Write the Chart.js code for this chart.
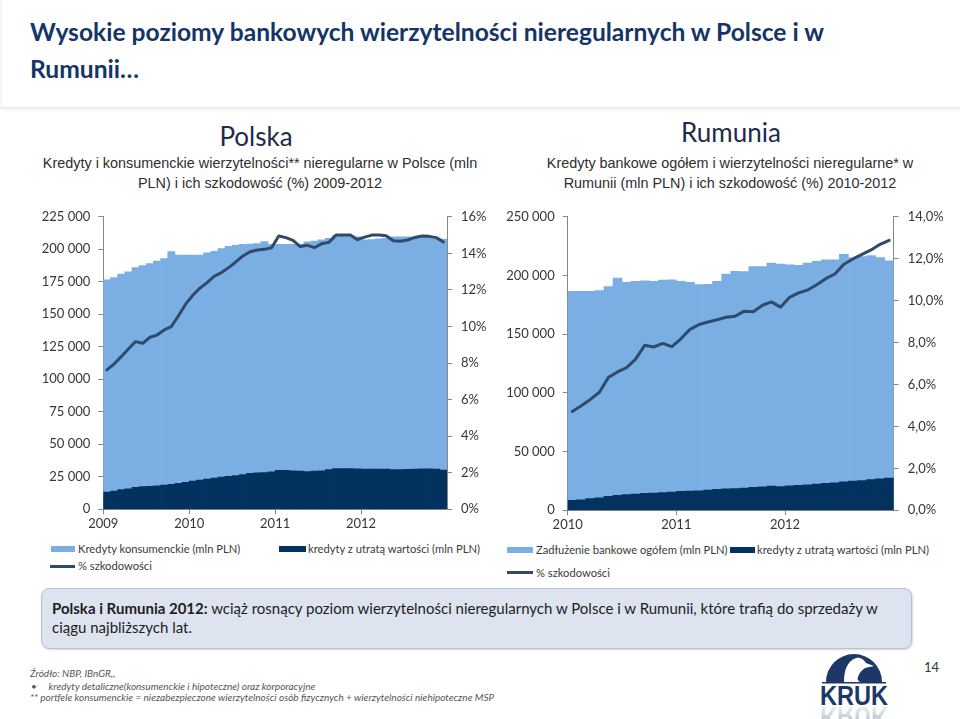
<!DOCTYPE html>
<html lang="pl">
<head>
<meta charset="utf-8">
<script src="https://cdn.jsdelivr.net/npm/chart.js@4.4.1/dist/chart.umd.min.js"></script>
<style>
  html,body{margin:0;padding:0;background:#fff;}
  body{width:960px;height:719px;position:relative;overflow:hidden;font-family:Lato,"Open Sans",sans-serif;}
  .abs{position:absolute;}
  #header{left:0;top:0;width:960px;height:107px;background:#fff;box-shadow:0 2px 3px rgba(0,0,0,0.10), inset 3px 0 3px -2px rgba(0,0,0,0.08);}
  #title{left:30px;top:13px;width:900px;font-weight:bold;font-size:24.6px;line-height:37px;color:#143566;white-space:nowrap;}
  .country{font-size:26px;color:#1d2b4c;text-align:center;}
  .sub{font-family:"Liberation Sans",Arial,sans-serif;font-size:14.4px;line-height:20px;color:#2e2e2e;text-align:center;}
  .leg{font-size:11.2px;color:#3a3a3a;white-space:nowrap;line-height:14px;}
  .sw{position:absolute;height:6px;}
  .ln{position:absolute;height:3px;background:#2f4a6c;}
  #box{left:41px;top:588px;width:869px;height:59px;background:#dde3ef;border:1px solid #b5c1da;border-radius:8px;box-shadow:1px 1px 2px rgba(0,0,0,0.15);}
  #boxtext{left:52px;top:599px;width:860px;font-size:15px;line-height:19px;color:#1e1e1e;white-space:nowrap;}
  .foot{font-style:italic;font-size:10px;color:#555;white-space:nowrap;line-height:12px;}
</style>
</head>
<body>
<div id="header" class="abs"></div>
<div id="title" class="abs">Wysokie poziomy bankowych wierzytelności nieregularnych w Polsce i w<br>Rumunii…</div>

<div class="abs country" style="left:156px;top:120px;width:200px;">Polska</div>
<div class="abs country" style="left:631px;top:116px;width:200px;">Rumunia</div>
<div class="abs sub" style="left:15px;top:153px;width:490px;">Kredyty i konsumenckie wierzytelności** nieregularne w Polsce (mln<br>PLN) i ich szkodowość (%) 2009-2012</div>
<div class="abs sub" style="left:495px;top:153px;width:470px;">Kredyty bankowe ogółem i wierzytelności nieregularne* w<br>Rumunii (mln PLN) i ich szkodowość (%) 2010-2012</div>

<canvas id="plChart" class="abs" width="490" height="340" style="left:0;top:200px;width:490px;height:340px;"></canvas>
<canvas id="roChart" class="abs" width="470" height="340" style="left:490px;top:200px;width:470px;height:340px;"></canvas>

<!-- legends -->
<div class="sw" style="left:51px;top:546px;width:24px;background:#7bafe4;"></div>
<div class="abs leg" style="left:78px;top:542px;">Kredyty konsumenckie (mln PLN)</div>
<div class="sw" style="left:279px;top:546px;width:27px;background:#03325f;"></div>
<div class="abs leg" style="left:308px;top:542px;">kredyty z utratą wartości (mln PLN)</div>
<div class="ln" style="left:50px;top:565px;width:25px;"></div>
<div class="abs leg" style="left:78px;top:559px;">% szkodowości</div>

<div class="sw" style="left:507px;top:547px;width:26px;background:#7bafe4;"></div>
<div class="abs leg" style="left:536px;top:543px;">Zadłużenie bankowe ogółem (mln PLN)</div>
<div class="sw" style="left:730px;top:547px;width:25px;background:#03325f;"></div>
<div class="abs leg" style="left:757px;top:543px;">kredyty z utratą wartości (mln PLN)</div>
<div class="ln" style="left:507px;top:571px;width:26px;"></div>
<div class="abs leg" style="left:536px;top:566px;">% szkodowości</div>

<div id="box" class="abs"></div>
<div id="boxtext" class="abs"><b>Polska i Rumunia 2012:</b> wciąż rosnący poziom wierzytelności nieregularnych w Polsce i w Rumunii, które trafią do sprzedaży w<br>ciągu najbliższych lat.</div>

<div class="abs foot" style="left:30px;top:667px;">Źródło: NBP, IBnGR,,</div>
<div class="abs foot" style="left:31px;top:680px;">•&nbsp;&nbsp;&nbsp;&nbsp;&nbsp;kredyty detaliczne(konsumenckie i hipoteczne) oraz korporacyjne</div>
<div class="abs foot" style="left:30px;top:691px;">** portfele konsumenckie = niezabezpieczone wierzytelności osób fizycznych + wierzytelności niehipoteczne MSP</div>

<div class="abs" style="left:924px;top:659px;font-size:13px;color:#333;">14</div>

<svg class="abs" style="left:814px;top:650px;" width="80" height="69" viewBox="0 0 80 69">
  <defs>
    <linearGradient id="fade" x1="0" y1="0" x2="0" y2="1">
      <stop offset="0" stop-color="#1d3766" stop-opacity="0.45"/>
      <stop offset="1" stop-color="#1d3766" stop-opacity="0"/>
    </linearGradient>
  </defs>
  <path d="M12 32 A28 28 0 0 1 68 32 Z" fill="#1d3766"/>
  <path d="M30 32 C30 21 33 11 42 8 C47 7 50 10 52 13 L60 16 L51 18 C48 20 45 23 44 27 C43 29 44 31 46 32 Z" fill="#fff"/>
  <rect x="8" y="32" width="64" height="1.5" fill="#1d3766"/>
  <text x="40" y="55" text-anchor="middle" font-family="'Liberation Sans',Arial,sans-serif" font-weight="bold" font-size="27" fill="#1d3766" textLength="68" lengthAdjust="spacingAndGlyphs">KRUK</text>
  <g transform="translate(0,112) scale(1,-1)">
    <text x="40" y="55" text-anchor="middle" font-family="'Liberation Sans',Arial,sans-serif" font-weight="bold" font-size="27" fill="url(#fade)" textLength="68" lengthAdjust="spacingAndGlyphs">KRUK</text>
  </g>
</svg>

<script>
// ---------------- DATA ----------------
const plYears = ['2009', '2010', '2011', '2012'];
const roYears = ['2010', '2011', '2012'];
const monthNums = ['01','02','03','04','05','06','07','08','09','10','11','12'];

// Polska (mln PLN, monthly 2009-01 .. 2012-12)
const plKonsumenckie = [176500,178300,180900,182600,185900,187500,189000,191000,192800,198200,195600,195600,
                        195600,195600,197200,198500,200500,202300,203000,203800,204000,204400,206000,203800,
                        203800,203800,203800,203800,205800,206400,207200,208500,210500,210500,210500,209500,
                        207200,207500,208000,208500,209500,209500,209500,209000,209000,209000,208500,207800];
const plUtrata = [13300,14000,15100,15800,16900,17400,17600,18100,18600,19200,19900,20700,
                  21700,22500,23200,24000,24800,25300,26000,26800,27600,28100,28300,28900,
                  29900,29900,29600,29400,29100,29400,29600,30600,31400,31400,31400,31200,
                  30900,30900,30900,30900,30600,30600,30700,30900,31200,31200,30900,30100];
const plSzkodowosc = [7.63,7.95,8.35,8.77,9.17,9.08,9.41,9.53,9.81,9.99,10.59,11.22,
                      11.71,12.10,12.40,12.75,12.95,13.22,13.53,13.86,14.09,14.18,14.22,14.31,
                      14.95,14.86,14.71,14.37,14.44,14.31,14.53,14.60,15.00,15.00,15.00,14.75,
                      14.89,15.00,15.00,14.96,14.69,14.66,14.73,14.87,14.95,14.93,14.86,14.62];

// Rumunia (mln PLN, monthly 2010-01 .. 2012-12)
const roZadluzenie = [186500,186500,186500,187100,190500,197800,194100,195000,195500,195000,196100,196400,
                      195000,194100,192200,192500,195000,201200,203500,203400,207700,207700,210500,209700,
                      209100,208600,210500,212000,213300,213300,218100,215300,216100,217000,215300,212500];
const roUtrata = [8500,9000,9900,10700,11900,12700,13300,13800,14400,14700,15000,15500,
                  16100,16400,16600,17200,17800,18300,18600,18900,19500,20000,20600,20300,
                  20900,21200,21700,22300,22900,23400,24300,24800,25400,26200,26800,27400];
const roSzkodowosc = [4.71,4.99,5.29,5.63,6.34,6.60,6.81,7.21,7.87,7.79,7.96,7.81,
                      8.18,8.63,8.86,8.98,9.09,9.21,9.26,9.50,9.47,9.78,9.94,9.69,
                      10.16,10.37,10.51,10.76,11.05,11.27,11.74,11.99,12.21,12.42,12.69,12.88];

const plLeftTicks = {min: 0, max: 225000, step: 25000};
const plRightTicks = {min: 0, max: 16, step: 2};
const roLeftTicks = {min: 0, max: 250000, step: 50000};
const roRightTicks = {min: 0, max: 14, step: 2};

// ---------------- STYLE ----------------
const LIGHT = '#7bafe4', DARK = '#03325f', LINE = '#2f4a6c', AXIS = '#868686', TXT = '#363636';
const FONT = {family: 'Lato, "Open Sans", sans-serif', size: 13};

function monthLabels(years){ return years.flatMap(y => monthNums.map(m => y + '-' + m)); }
function thousands(v){ return String(v).replace(/\B(?=(\d{3})+(?!\d))/g, ' '); }

function makeChart(id, years, light, dark, pct, lt, rt, dims, pctFmt, lblName){
  const labels = monthLabels(years);
  const halfBar = dims.plotW / labels.length / 2;
  return new Chart(document.getElementById(id), {
    data: {
      labels,
      datasets: [
        {type: 'line', label: '% szkodowości', data: pct, yAxisID: 'y2', borderColor: LINE, borderWidth: 3,
         pointRadius: 0, tension: 0, order: 0, borderJoinStyle: 'round', borderCapStyle: 'round'},
        {type: 'bar', label: 'kredyty z utratą wartości (mln PLN)', data: dark, yAxisID: 'y', backgroundColor: DARK,
         grouped: false, barPercentage: 1, categoryPercentage: 1, borderWidth: 0, order: 1},
        {type: 'bar', label: lblName, data: light, yAxisID: 'y', backgroundColor: LIGHT,
         grouped: false, barPercentage: 1, categoryPercentage: 1, borderWidth: 0, order: 2}
      ]
    },
    options: {
      responsive: false, animation: false, devicePixelRatio: 1,
      layout: {padding: {top: dims.top, left: 0, right: 0, bottom: 0}},
      plugins: {legend: {display: false}, tooltip: {enabled: false}},
      scales: {
        x: {
          type: 'category', offset: true,
          grid: {display: true, drawOnChartArea: false, drawTicks: true, tickLength: 5, offset: true,
                 tickColor: (c) => (c.index % 12 === 0 ? AXIS : 'rgba(0,0,0,0)'), tickWidth: 1},
          border: {display: true, color: AXIS, width: 1},
          ticks: {autoSkip: false, maxRotation: 0, minRotation: 0, color: TXT, font: FONT, padding: 2,
                  labelOffset: -halfBar,
                  callback: function(v, i){ return i % 12 === 0 ? years[i / 12] : ''; }},
          afterFit: (s) => { s.height = dims.xH; }
        },
        y: {
          position: 'left', min: lt.min, max: lt.max,
          grid: {display: true, drawOnChartArea: false, drawTicks: true, tickLength: 5, color: AXIS},
          border: {display: true, color: AXIS, width: 1},
          ticks: {stepSize: lt.step, color: TXT, font: FONT, padding: 8, callback: (v) => thousands(v)},
          afterFit: (s) => { s.width = dims.leftW; }
        },
        y2: {
          position: 'right', min: rt.min, max: rt.max,
          grid: {display: true, drawOnChartArea: false, drawTicks: true, tickLength: 5, color: AXIS},
          border: {display: true, color: AXIS, width: 1},
          ticks: {stepSize: rt.step, color: TXT, font: FONT, padding: 9, callback: pctFmt},
          afterFit: (s) => { s.width = dims.rightW; }
        }
      }
    }
  });
}

makeChart('plChart', plYears, plKonsumenckie, plUtrata, plSzkodowosc, plLeftTicks, plRightTicks,
  {top: 15.7, xH: 30.7, leftW: 103.3, rightW: 43, plotW: 343.7},
  (v) => v + '%', 'Kredyty konsumenckie (mln PLN)');

makeChart('roChart', roYears, roZadluzenie, roUtrata, roSzkodowosc, roLeftTicks, roRightTicks,
  {top: 15, xH: 29.7, leftW: 77.7, rightW: 66.3, plotW: 326},
  (v) => v.toFixed(1).replace('.', ',') + '%', 'Zadłużenie bankowe ogółem (mln PLN)');
</script>
</body>
</html>
